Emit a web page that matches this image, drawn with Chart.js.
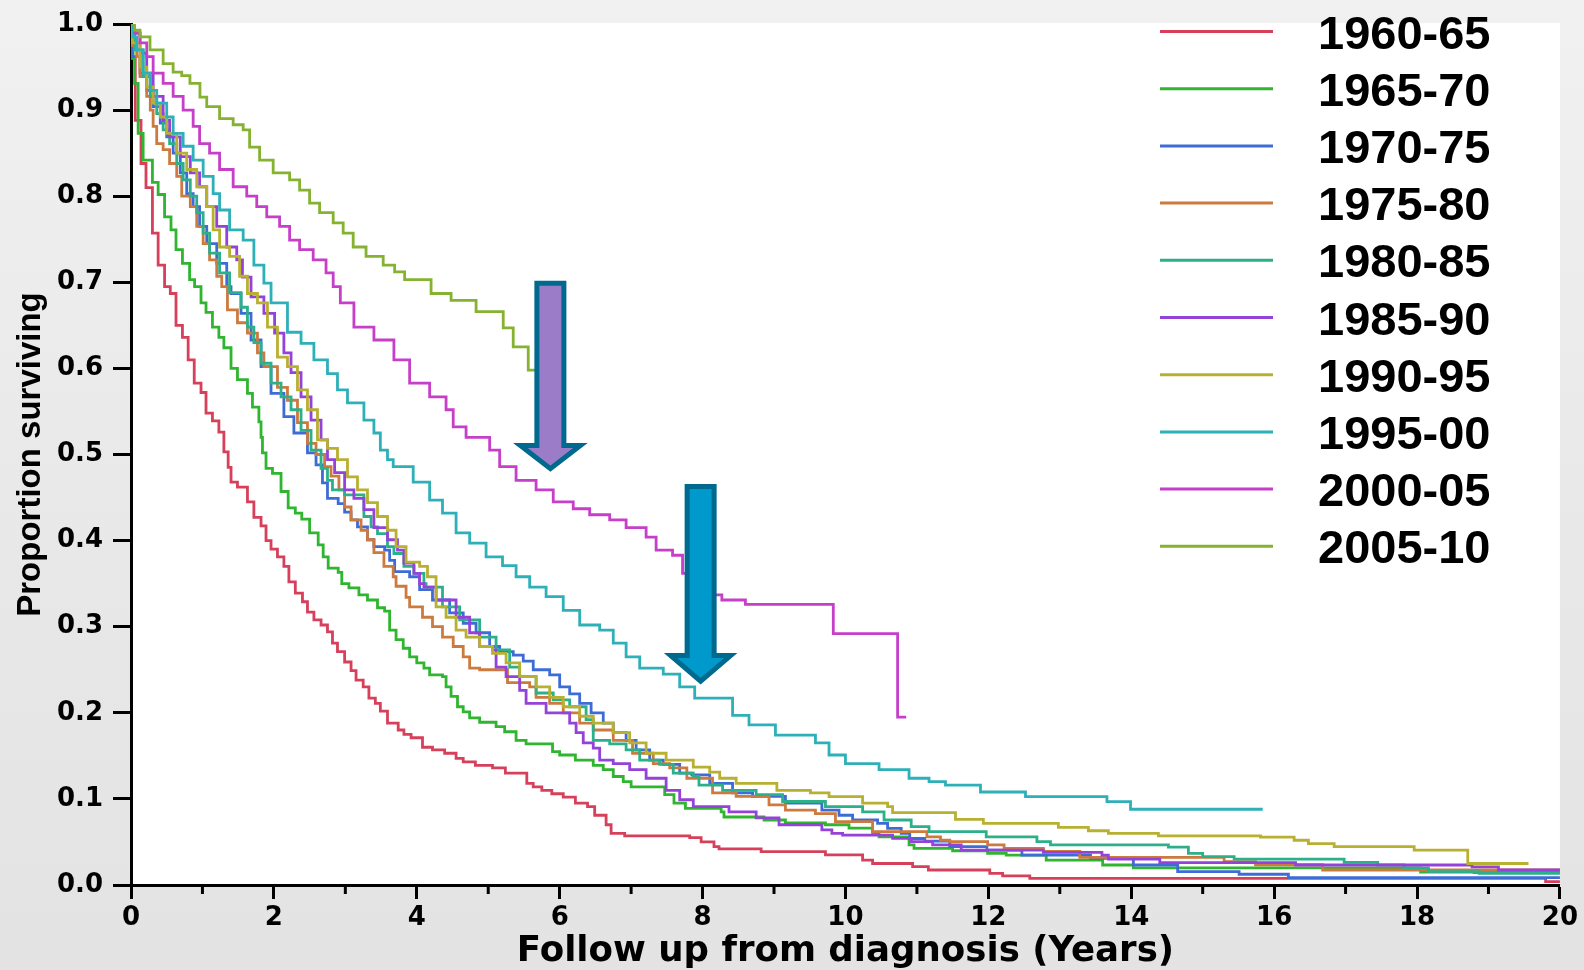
<!DOCTYPE html>
<html>
<head>
<meta charset="utf-8">
<title>Survival by period of diagnosis</title>
<script src="https://cdn.jsdelivr.net/npm/chart.js@4.4.0/dist/chart.umd.min.js"></script>
<style>
  html, body { margin: 0; padding: 0; }
  body {
    width: 1584px; height: 970px; overflow: hidden;
    background: linear-gradient(180deg, #f1f1f1 0%, #e9e9e9 50%, #e3e3e3 100%);
  }
  #wrap { position: relative; width: 1584px; height: 970px; }
</style>
</head>
<body>
<div id="wrap"><canvas id="km"></canvas></div>
<script>
// Kaplan-Meier curves: [years, proportion surviving]
const km6065 = [[0,1],[0.02,0.96],[0.06,0.888],[0.14,0.838],[0.21,0.81],[0.30,0.757],[0.38,0.72],[0.47,0.695],[0.55,0.687],[0.63,0.65],[0.72,0.636],[0.80,0.61],[0.885,0.583],[0.98,0.572],[1.05,0.548],[1.14,0.539],[1.23,0.526],[1.30,0.503],[1.36,0.485],[1.40,0.468],[1.49,0.462],[1.63,0.445],[1.72,0.427],[1.82,0.417],[1.89,0.40],[1.96,0.39],[2.05,0.381],[2.14,0.370],[2.21,0.352],[2.30,0.339],[2.40,0.329],[2.47,0.317],[2.56,0.308],[2.66,0.302],[2.75,0.294],[2.82,0.281],[2.89,0.271],[2.99,0.259],[3.08,0.249],[3.15,0.238],[3.25,0.230],[3.33,0.217],[3.42,0.211],[3.49,0.202],[3.59,0.188],[3.74,0.18],[3.82,0.175],[3.92,0.171],[4.08,0.160],[4.22,0.157],[4.39,0.153],[4.55,0.147],[4.65,0.143],[4.82,0.139],[5.06,0.136],[5.24,0.130],[5.54,0.118],[5.63,0.114],[5.75,0.110],[5.89,0.106],[6.05,0.102],[6.22,0.095],[6.39,0.091],[6.49,0.081],[6.65,0.070],[6.72,0.060],[6.91,0.057],[7.82,0.055],[7.98,0.050],[8.16,0.0445],[8.23,0.042],[8.82,0.0387],[9.72,0.035],[10.24,0.029],[10.38,0.025],[10.94,0.0213],[11.16,0.0174],[12.02,0.0136],[12.2,0.0105],[12.58,0.0077],[19.8,0.004],[20,0.004]];
const km6570 = [[0,1],[0.03,0.96],[0.05,0.931],[0.10,0.873],[0.17,0.842],[0.30,0.816],[0.38,0.802],[0.47,0.776],[0.56,0.761],[0.63,0.738],[0.72,0.722],[0.82,0.703],[0.89,0.695],[0.98,0.676],[1.05,0.665],[1.14,0.648],[1.23,0.636],[1.30,0.624],[1.40,0.600],[1.49,0.587],[1.63,0.571],[1.70,0.555],[1.79,0.538],[1.82,0.52],[1.84,0.502],[1.89,0.484],[1.98,0.478],[2.10,0.457],[2.20,0.438],[2.30,0.432],[2.39,0.425],[2.50,0.409],[2.62,0.395],[2.69,0.381],[2.76,0.368],[2.90,0.363],[2.95,0.35],[3.05,0.345],[3.19,0.337],[3.31,0.331],[3.45,0.322],[3.55,0.318],[3.62,0.296],[3.71,0.285],[3.81,0.275],[3.90,0.265],[4.0,0.258],[4.1,0.252],[4.18,0.244],[4.36,0.242],[4.41,0.23],[4.48,0.219],[4.57,0.207],[4.65,0.201],[4.74,0.194],[4.88,0.189],[5.11,0.184],[5.23,0.178],[5.39,0.168],[5.53,0.164],[5.9,0.155],[6.0,0.151],[6.22,0.145],[6.47,0.139],[6.61,0.134],[6.75,0.126],[6.89,0.120],[7.0,0.114],[7.47,0.105],[7.6,0.095],[7.76,0.089],[8.26,0.085],[8.3,0.079],[8.86,0.0755],[9.16,0.072],[9.72,0.070],[10.05,0.066],[10.38,0.060],[10.47,0.056],[10.89,0.0465],[10.96,0.0426],[11.5,0.0398],[11.99,0.0368],[12.25,0.0348],[12.81,0.029],[13.6,0.0232],[14.03,0.020],[18.05,0.015],[18.8,0.0145],[20,0.0145]];
const km7075 = [[0,1],[0.02,0.962],[0.126,0.943],[0.22,0.923],[0.31,0.904],[0.41,0.885],[0.5,0.869],[0.59,0.85],[0.69,0.827],[0.78,0.803],[0.87,0.788],[0.96,0.765],[1.06,0.745],[1.2,0.722],[1.34,0.695],[1.40,0.687],[1.54,0.664],[1.68,0.633],[1.82,0.602],[1.96,0.571],[2.14,0.544],[2.28,0.525],[2.47,0.502],[2.59,0.488],[2.68,0.467],[2.75,0.449],[2.9,0.443],[2.99,0.433],[3.08,0.424],[3.17,0.416],[3.31,0.401],[3.40,0.393],[3.55,0.389],[3.62,0.377],[3.69,0.364],[3.9,0.358],[4.04,0.343],[4.22,0.331],[4.46,0.316],[4.65,0.304],[4.83,0.293],[5.02,0.277],[5.16,0.271],[5.35,0.267],[5.49,0.260],[5.63,0.250],[5.86,0.244],[6.0,0.23],[6.14,0.222],[6.28,0.211],[6.44,0.2],[6.61,0.188],[6.75,0.177],[6.93,0.168],[7.07,0.157],[7.26,0.145],[7.45,0.14],[7.68,0.13],[7.85,0.128],[8.1,0.118],[8.42,0.107],[8.7,0.103],[9.16,0.095],[9.67,0.087],[9.91,0.081],[10.1,0.0755],[10.45,0.0716],[10.59,0.0658],[10.78,0.060],[10.9,0.054],[11.11,0.051],[11.46,0.0445],[11.98,0.0406],[12.47,0.0348],[13.43,0.031],[14.03,0.0232],[14.65,0.0155],[15.51,0.0125],[16.2,0.0085],[20,0.0085]];
const km7580 = [[0,1],[0.02,0.975],[0.08,0.962],[0.126,0.939],[0.22,0.916],[0.27,0.9],[0.31,0.881],[0.36,0.861],[0.45,0.854],[0.54,0.838],[0.64,0.823],[0.71,0.80],[0.83,0.788],[0.92,0.765],[1.01,0.745],[1.1,0.726],[1.2,0.707],[1.27,0.695],[1.35,0.668],[1.49,0.653],[1.63,0.641],[1.77,0.618],[1.86,0.602],[2.05,0.578],[2.19,0.563],[2.33,0.537],[2.47,0.513],[2.59,0.500],[2.71,0.486],[2.8,0.475],[2.91,0.459],[2.99,0.439],[3.08,0.424],[3.22,0.412],[3.31,0.401],[3.40,0.386],[3.54,0.37],[3.67,0.358],[3.71,0.347],[3.85,0.334],[3.9,0.323],[4.08,0.311],[4.22,0.30],[4.36,0.288],[4.51,0.277],[4.65,0.265],[4.74,0.252],[4.88,0.250],[5.27,0.235],[5.58,0.230],[5.67,0.218],[5.86,0.211],[6.05,0.2],[6.28,0.188],[6.47,0.18],[6.75,0.168],[7.02,0.153],[7.31,0.141],[7.54,0.136],[7.78,0.124],[8.14,0.107],[8.47,0.103],[8.93,0.093],[9.16,0.087],[9.58,0.083],[9.86,0.0736],[10.38,0.062],[11.14,0.056],[11.33,0.052],[11.46,0.0503],[11.99,0.0465],[12.22,0.0426],[12.77,0.039],[13.28,0.032],[15.3,0.027],[15.74,0.0235],[16.68,0.0174],[20,0.0174]];
const km8085 = [[0,1],[0.05,0.97],[0.17,0.939],[0.27,0.916],[0.36,0.896],[0.45,0.877],[0.54,0.861],[0.64,0.838],[0.73,0.819],[0.83,0.80],[0.92,0.781],[1.01,0.757],[1.1,0.734],[1.24,0.711],[1.38,0.688],[1.54,0.671],[1.63,0.648],[1.72,0.63],[1.82,0.606],[1.96,0.583],[2.1,0.567],[2.24,0.552],[2.38,0.528],[2.52,0.505],[2.66,0.484],[2.75,0.470],[2.82,0.459],[2.99,0.453],[3.26,0.428],[3.36,0.416],[3.45,0.408],[3.59,0.393],[3.68,0.385],[3.82,0.37],[3.96,0.362],[4.1,0.350],[4.13,0.346],[4.36,0.323],[4.6,0.308],[4.88,0.288],[5.11,0.273],[5.3,0.253],[5.44,0.242],[5.67,0.223],[5.91,0.215],[6.14,0.207],[6.37,0.192],[6.47,0.168],[6.7,0.164],[6.93,0.157],[7.12,0.145],[7.4,0.14],[7.59,0.13],[7.87,0.126],[7.95,0.116],[8.28,0.110],[8.75,0.105],[9.12,0.097],[9.72,0.091],[10.24,0.085],[10.54,0.0755],[10.92,0.0677],[11.17,0.062],[11.97,0.056],[12.68,0.0503],[12.87,0.0465],[14.52,0.044],[14.8,0.0368],[15.0,0.0329],[15.44,0.030],[16.98,0.0263],[17.45,0.0232],[17.82,0.020],[18.16,0.0155],[18.87,0.0135],[20,0.0135]];
const km8590 = [[0,1],[0.02,0.989],[0.126,0.966],[0.22,0.943],[0.31,0.916],[0.45,0.888],[0.54,0.869],[0.69,0.846],[0.83,0.827],[0.96,0.811],[1.06,0.788],[1.2,0.765],[1.34,0.741],[1.48,0.726],[1.56,0.706],[1.68,0.683],[1.86,0.664],[2.01,0.641],[2.14,0.618],[2.24,0.595],[2.38,0.567],[2.52,0.540],[2.66,0.517],[2.75,0.494],[2.85,0.479],[2.99,0.459],[3.12,0.449],[3.26,0.436],[3.40,0.415],[3.59,0.401],[3.73,0.389],[3.82,0.374],[3.96,0.362],[4.04,0.350],[4.1,0.346],[4.27,0.331],[4.55,0.311],[4.74,0.293],[4.88,0.277],[5.06,0.273],[5.11,0.253],[5.25,0.242],[5.44,0.226],[5.53,0.211],[5.81,0.2],[6.14,0.188],[6.23,0.177],[6.33,0.165],[6.47,0.159],[6.56,0.145],[6.75,0.141],[6.98,0.134],[7.21,0.124],[7.49,0.110],[7.68,0.099],[7.87,0.091],[8.37,0.085],[8.75,0.078],[9.07,0.070],[9.67,0.064],[9.81,0.06],[9.96,0.058],[10.66,0.0542],[10.92,0.0503],[11.22,0.0465],[11.62,0.0406],[12.77,0.038],[13.59,0.0348],[13.68,0.030],[14.4,0.026],[16.3,0.0232],[18.77,0.021],[19.14,0.0174],[20,0.0174]];
const km9095 = [[0,1],[0.02,0.978],[0.126,0.95],[0.22,0.927],[0.31,0.908],[0.41,0.892],[0.5,0.873],[0.64,0.85],[0.78,0.831],[0.92,0.811],[1.06,0.788],[1.15,0.761],[1.24,0.741],[1.38,0.730],[1.52,0.707],[1.63,0.687],[1.77,0.676],[1.91,0.648],[2.05,0.613],[2.19,0.602],[2.33,0.575],[2.47,0.552],[2.61,0.517],[2.75,0.507],[2.89,0.494],[3.03,0.474],[3.17,0.459],[3.31,0.444],[3.45,0.428],[3.59,0.412],[3.71,0.393],[3.85,0.375],[4.04,0.370],[4.15,0.358],[4.27,0.323],[4.41,0.311],[4.55,0.296],[4.69,0.288],[4.88,0.277],[5.06,0.269],[5.25,0.258],[5.44,0.242],[5.67,0.23],[5.86,0.218],[6.05,0.207],[6.28,0.196],[6.47,0.188],[6.75,0.177],[6.98,0.165],[7.21,0.153],[7.49,0.145],[7.87,0.137],[8.1,0.131],[8.24,0.124],[8.47,0.118],[9.04,0.110],[9.51,0.107],[9.77,0.1026],[10.24,0.095],[10.59,0.091],[10.66,0.084],[11.54,0.0763],[11.93,0.0716],[12.98,0.067],[13.4,0.063],[13.68,0.060],[14.38,0.057],[15.81,0.0557],[16.28,0.052],[16.48,0.048],[16.84,0.0445],[17.96,0.0406],[18.71,0.025],[19.56,0.025]];
const km9500 = [[0,1],[0.03,0.985],[0.08,0.97],[0.17,0.943],[0.27,0.923],[0.36,0.908],[0.5,0.892],[0.59,0.873],[0.73,0.858],[0.87,0.842],[1.01,0.823],[1.15,0.803],[1.24,0.784],[1.38,0.761],[1.57,0.749],[1.72,0.72],[1.86,0.699],[1.96,0.676],[2.19,0.642],[2.38,0.629],[2.56,0.61],[2.75,0.594],[2.89,0.575],[3.03,0.56],[3.26,0.54],[3.40,0.525],[3.49,0.505],[3.59,0.494],[3.67,0.486],[3.95,0.468],[4.18,0.447],[4.36,0.432],[4.55,0.409],[4.74,0.397],[4.97,0.381],[5.2,0.371],[5.39,0.358],[5.58,0.346],[5.81,0.335],[6.05,0.319],[6.28,0.302],[6.56,0.296],[6.75,0.281],[6.93,0.265],[7.12,0.252],[7.45,0.245],[7.68,0.23],[7.89,0.217],[8.42,0.197],[8.65,0.186],[9.02,0.174],[9.58,0.165],[9.77,0.151],[10.0,0.141],[10.47,0.134],[10.89,0.124],[11.17,0.120],[11.4,0.116],[11.89,0.108],[12.52,0.1026],[13.66,0.0968],[13.99,0.088],[15.84,0.088]];
const km0005 = [[0,1],[0.05,0.99],[0.126,0.978],[0.22,0.962],[0.31,0.943],[0.45,0.931],[0.59,0.916],[0.73,0.90],[0.87,0.881],[0.96,0.861],[1.1,0.85],[1.24,0.831],[1.43,0.811],[1.62,0.80],[1.76,0.788],[1.9,0.776],[2.08,0.765],[2.22,0.749],[2.36,0.738],[2.55,0.726],[2.73,0.711],[2.83,0.695],[2.93,0.676],[3.12,0.648],[3.4,0.633],[3.68,0.61],[3.90,0.583],[4.18,0.567],[4.41,0.552],[4.51,0.532],[4.69,0.52],[5.02,0.505],[5.16,0.486],[5.39,0.470],[5.67,0.459],[5.91,0.445],[6.19,0.437],[6.42,0.43],[6.70,0.424],[6.93,0.415],[7.21,0.404],[7.35,0.389],[7.58,0.383],[7.72,0.362],[7.85,0.345],[8.0,0.337],[8.27,0.331],[8.6,0.326],[9.83,0.292],[10.73,0.195],[10.85,0.195]];
const km0510 = [[0,1],[0.05,0.993],[0.126,0.985],[0.266,0.970],[0.45,0.954],[0.59,0.944],[0.71,0.94],[0.825,0.931],[0.965,0.915],[1.06,0.904],[1.24,0.890],[1.43,0.883],[1.57,0.877],[1.66,0.857],[1.80,0.842],[1.99,0.827],[2.22,0.819],[2.36,0.807],[2.5,0.792],[2.64,0.781],[2.83,0.769],[2.97,0.757],[3.11,0.741],[3.29,0.73],[3.53,0.72],[3.69,0.712],[3.83,0.703],[4.2,0.687],[4.48,0.679],[4.83,0.666],[5.21,0.647],[5.35,0.625],[5.56,0.598],[5.75,0.598]];

const cohorts = ['1960-65', '1965-70', '1970-75', '1975-80', '1980-85', '1985-90', '1990-95', '1995-00', '2000-05', '2005-10'];
const curves = [km6065, km6570, km7075, km7580, km8085, km8590, km9095, km9500, km0005, km0510];
const colors = ['#d6405a', '#2fb52f', '#3e6cd6', '#cc7a3e', '#2cb08a', '#9442d8', '#b8b030', '#2eb0b8', '#c63fc9', '#86b232'];

const xTicks = [0, 2, 4, 6, 8, 10, 12, 14, 16, 18, 20];
const xTitle = 'Follow up from diagnosis (Years)';
const yTitle = 'Proportion surviving';

// the two highlight arrows, placed in data units (tip points down)
const arrowMarks = [
  { x: 5.870, top: 0.699, head: 0.5105, tip: 0.4836, fill: '#9a7cc9' },
  { x: 7.973, top: 0.4628, head: 0.2665, tip: 0.2368, fill: '#0099cc' }
];

const plotBackground = {
  id: 'plotBackground',
  beforeDraw(chart) {
    const { ctx, chartArea: a } = chart;
    ctx.save();
    ctx.fillStyle = '#ffffff';
    ctx.fillRect(a.left, a.top - 1, a.right - a.left, a.bottom - a.top + 1);
    ctx.restore();
  }
};

const arrowPlugin = {
  id: 'arrowPlugin',
  afterDatasetsDraw(chart) {
    const { ctx, scales: { x, y } } = chart;
    ctx.save();
    arrowMarks.forEach(a => {
      const cx = x.getPixelForValue(a.x);
      const yt = y.getPixelForValue(a.top);
      const yh = y.getPixelForValue(a.head);
      const yp = y.getPixelForValue(a.tip);
      const sw = 13.5, hw = 30;
      ctx.beginPath();
      ctx.moveTo(cx - sw, yt);
      ctx.lineTo(cx + sw, yt);
      ctx.lineTo(cx + sw, yh);
      ctx.lineTo(cx + hw, yh);
      ctx.lineTo(cx, yp);
      ctx.lineTo(cx - hw, yh);
      ctx.lineTo(cx - sw, yh);
      ctx.closePath();
      ctx.fillStyle = a.fill;
      ctx.fill();
      ctx.lineWidth = 5;
      ctx.lineJoin = 'miter';
      ctx.strokeStyle = '#00698e';
      ctx.stroke();
    });
    ctx.restore();
  }
};

const minorTicks = {
  id: 'minorTicks',
  afterDraw(chart) {
    const { ctx, scales: { x } } = chart;
    ctx.save();
    ctx.strokeStyle = '#000';
    ctx.lineWidth = 3;
    for (let v = 1; v < 20; v += 2) {
      const px = x.getPixelForValue(v);
      ctx.beginPath();
      ctx.moveTo(px, x.top);
      ctx.lineTo(px, x.top + 9);
      ctx.stroke();
    }
    ctx.restore();
  }
};

const cornerLegend = {
  id: 'cornerLegend',
  afterDraw(chart) {
    const ctx = chart.ctx;
    ctx.save();
    ctx.font = 'bold 47px "Liberation Sans", Arial, sans-serif';
    ctx.textAlign = 'left';
    ctx.textBaseline = 'alphabetic';
    chart.data.datasets.forEach((ds, i) => {
      const ly = 31.5 + i * 57.2;
      ctx.strokeStyle = ds.borderColor;
      ctx.lineWidth = 3;
      ctx.beginPath();
      ctx.moveTo(1160, ly);
      ctx.lineTo(1273, ly);
      ctx.stroke();
      ctx.fillStyle = '#000';
      ctx.fillText(ds.label, 1318, ly + 17);
    });
    ctx.restore();
  }
};

const tickFont = { family: '"DejaVu Sans", sans-serif', weight: 'bold', size: 26, lineHeight: 1 };

new Chart(document.getElementById('km'), {
  type: 'line',
  data: {
    datasets: cohorts.map((name, i) => ({
      label: name,
      data: curves[i].map(([t, s]) => ({ x: t, y: s })),
      borderColor: colors[i],
      borderWidth: 2.8,
      pointRadius: 0,
      stepped: true,
      fill: false,
      order: cohorts.length - i
    }))
  },
  options: {
    responsive: true,
    maintainAspectRatio: false,
    animation: false,
    layout: { padding: { top: 24, right: 22, bottom: 0, left: 0 } },
    plugins: { legend: { display: false }, tooltip: { enabled: false } },
    scales: {
      x: {
        type: 'linear',
        min: 0,
        max: 20,
        afterFit: s => { s.height = 85; },
        ticks: {
          stepSize: 1,
          autoSkip: false,
          maxRotation: 0,
          padding: 6,
          color: '#000',
          font: tickFont,
          callback: v => xTicks.includes(v) ? String(v) : ''
        },
        grid: {
          drawOnChartArea: false,
          tickLength: 14,
          tickWidth: 3,
          tickColor: c => (c.tick && xTicks.includes(c.tick.value)) ? '#000' : 'rgba(0,0,0,0)'
        },
        border: { display: true, color: '#000', width: 3 },
        title: {
          display: true,
          text: xTitle,
          color: '#000',
          font: { family: '"DejaVu Sans", sans-serif', weight: 'bold', size: 35.6, lineHeight: 1 },
          padding: { top: 0, bottom: 0 }
        }
      },
      y: {
        min: 0,
        max: 1,
        afterFit: s => { s.width = 131; },
        ticks: {
          stepSize: 0.1,
          padding: 10,
          color: '#000',
          font: tickFont,
          callback: v => v.toFixed(1)
        },
        grid: { drawOnChartArea: false, tickLength: 18, tickWidth: 3, tickColor: '#000' },
        border: { display: true, color: '#000', width: 3 },
        title: {
          display: true,
          text: yTitle,
          color: '#000',
          font: { family: '"Liberation Sans", Arial, sans-serif', weight: 'bold', size: 33, lineHeight: 1 },
          padding: { top: 14, bottom: 0 }
        }
      }
    }
  },
  plugins: [plotBackground, arrowPlugin, minorTicks, cornerLegend]
});
</script>
</body>
</html>
